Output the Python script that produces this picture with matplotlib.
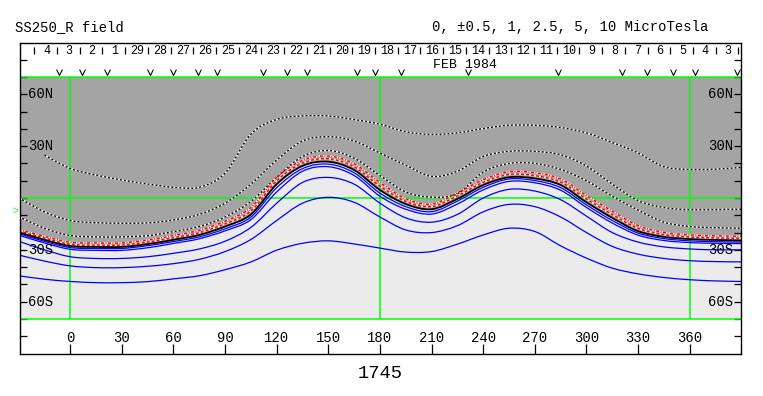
import numpy as np
import matplotlib
matplotlib.use("Agg")
import matplotlib.pyplot as plt
from matplotlib.path import Path
from matplotlib.patches import PathPatch

plt.rcParams['font.family'] = ['Liberation Mono', 'DejaVu Sans Mono', 'DejaVu Sans']
plt.rcParams['lines.scale_dashes'] = False

# ---------------- data ----------------
lon = [-30, -15, 0, 15, 30, 45, 60, 75, 90, 105, 120, 135, 150, 165, 180,
       195, 210, 225, 240, 255, 270, 285, 300, 315, 330, 345, 360, 375, 390]
nan = float('nan')
neutral = [-19.8, -24.2, -27.8, -28.3, -28.3, -26.7, -24.2, -21.4, -16.5, -9.5, 8.0, 18.6, 21.0, 16.2, 4.6,
           -3.5, -6.5, -0.5, 7.5, 12.0, 11.3, 7.5, -2.5, -11.5, -19.2, -22.5, -23.8, -24.3, -24.6]
pos_05 = [-19.0, -23.2, -26.8, -27.2, -27.2, -25.5, -23.0, -20.1, -15.0, -7.5, 10.0, 20.2, 22.7, 18.0, 6.8,
          -2.0, -5.0, 1.2, 9.0, 13.6, 12.9, 9.2, -0.6, -9.6, -17.6, -21.2, -22.6, -23.1, -23.4]
pos_1 = [-18.1, -22.2, -25.6, -26.0, -26.0, -24.3, -21.7, -18.7, -13.4, -5.5, 12.0, 21.8, 24.3, 19.8, 9.0,
         -0.4, -3.5, 3.0, 10.6, 15.2, 14.6, 11.0, 1.4, -7.6, -16.0, -19.9, -21.4, -21.9, -22.2]
pos_25 = [-10.8, -17.5, -21.7, -22.5, -22.5, -21.8, -19.5, -16.5, -11.0, -2.0, 12.0, 24.0, 27.5, 23.0, 13.0,
          3.5, 0.5, 2.5, 15.0, 20.0, 20.0, 16.5, 10.0, 1.0, -7.0, -14.0, -16.5, -17.2, -17.5]
pos_5 = [0.2, -8.0, -13.0, -14.3, -14.6, -14.4, -12.7, -9.5, -3.0, 8.0, 22.0, 33.0, 35.5, 33.0, 26.0,
         19.0, 12.5, 15.5, 24.0, 27.0, 27.0, 25.0, 18.5, 8.0, -1.5, -5.5, -6.8, -6.7, -6.5]
pos_10 = [nan, 24.8, 17.1, 13.3, 10.4, 8.1, 6.2, 6.2, 14.4, 37.0, 45.5, 47.5, 47.5, 45.4, 42.7,
          38.3, 36.8, 37.7, 40.2, 42.1, 42.1, 40.8, 37.7, 32.1, 26.1, 18.1, 16.5, 16.7, 17.7]
neg_05 = [-20.6, -25.1, -28.7, -29.2, -29.2, -27.6, -25.2, -22.5, -17.8, -11.0, 6.0, 17.0, 19.6, 14.6, 2.8,
          -5.0, -7.9, -1.8, 6.2, 11.0, 10.1, 6.0, -4.0, -13.0, -20.3, -23.5, -24.8, -25.3, -25.5]
neg_1 = [-21.5, -26.0, -29.7, -30.3, -30.3, -28.8, -26.3, -23.6, -19.0, -12.5, 3.5, 15.5, 18.1, 13.0, 1.0,
         -6.5, -9.3, -3.5, 4.7, 9.6, 8.8, 4.5, -5.5, -14.5, -21.5, -24.6, -25.8, -26.2, -26.4]
neg_25 = [-25.0, -30.0, -34.0, -35.0, -35.0, -34.0, -32.0, -29.5, -25.0, -17.0, -3.0, 9.0, 11.9, 8.0, -3.0,
          -11.5, -14.0, -9.5, 0.0, 5.0, 4.0, -1.0, -10.5, -20.0, -25.5, -28.3, -29.5, -30.0, -30.0]
neg_5 = [-33.0, -36.5, -39.3, -40.3, -40.3, -39.5, -38.0, -35.5, -31.0, -24.0, -13.0, -3.0, 0.4, -2.5, -11.0,
         -18.5, -20.0, -16.0, -8.0, -3.7, -5.0, -11.0, -20.0, -28.0, -32.5, -35.0, -36.3, -36.8, -37.0]
neg_10 = [-45.0, -47.0, -48.3, -49.0, -49.0, -48.4, -46.8, -45.0, -41.5, -37.0, -30.2, -26.2, -24.8, -26.6, -29.0,
          -31.3, -31.0, -26.7, -21.4, -17.5, -19.4, -27.7, -34.8, -40.6, -43.9, -46.0, -47.3, -48.0, -48.3]

lon_ticks = [0, 30, 60, 90, 120, 150, 180, 210, 240, 270, 300, 330, 360]
lat_ticks = [-80, -70, -60, -50, -40, -30, -20, -10, 0, 10, 20, 30, 40, 50, 60, 70, 80]
lat_label_vals = [60, 30, -30, -60]
lat_label_text = ['60N', '30N', '30S', '60S']
day_labels = ['4', '3', '2', '1', '29', '28', '27', '26', '25', '24', '23', '22', '21', '20', '19',
              '18', '17', '16', '15', '14', '13', '12', '11', '10', '9', '8', '7', '6', '5', '4', '3']
day_edge_start = -20.9
deg_per_day = 13.2
obs_lon = [-6.6, 6.8, 21.3, 46.3, 59.6, 74.2, 85.2, 111.9, 125.9, 137.5, 166.5, 177.0,
           192.0, 231.0, 283.3, 320.5, 335.0, 350.1, 362.9, 387.6]
sub_earth_lat = -7.2

title_left = 'SS250_R field'
title_right = '0, \u00b10.5, 1, 2.5, 5, 10 MicroTesla'
month_label = 'FEB 1984'
rotation_label = '1745'

# ---------------- helpers ----------------
def curve(xs, ys):
    pts = np.array([(x, y) for x, y in zip(xs, ys) if not np.isnan(y)], dtype=float)
    n = len(pts)
    verts = [pts[0]]
    codes = [Path.MOVETO]
    for i in range(n - 1):
        p0 = pts[i - 1] if i > 0 else pts[i]
        p1, p2 = pts[i], pts[i + 1]
        p3 = pts[i + 2] if i + 2 < n else pts[i + 1]
        verts += [p1 + (p2 - p0) / 6.0, p2 - (p3 - p1) / 6.0, p2]
        codes += [Path.CURVE4] * 3
    return verts, codes


def draw_line(ax, ys, **kw):
    v, c = curve(lon, ys)
    ax.add_patch(PathPatch(Path(v, c), fill=False, **kw))


# ---------------- figure ----------------
fig = plt.figure(figsize=(7.63, 3.96), dpi=100)
ax = fig.add_axes([20 / 763, (396 - 353.5) / 396, 721 / 763, 311 / 396])
ax.set_xlim(-29.2, 389.8)
ax.set_ylim(-90, 90)

# polarity fills
v, c = curve(lon, neutral)
top_v = v + [(lon[-1], 70), (lon[0], 70), (lon[0], neutral[0])]
top_c = c + [Path.LINETO, Path.LINETO, Path.CLOSEPOLY]
ax.add_patch(PathPatch(Path(top_v, top_c), facecolor='#a4a4a4', edgecolor='none', zorder=1))
bot_v = v + [(lon[-1], -70), (lon[0], -70), (lon[0], neutral[0])]
bot_c = c + [Path.LINETO, Path.LINETO, Path.CLOSEPOLY]
ax.add_patch(PathPatch(Path(bot_v, bot_c), facecolor='#ebebeb', edgecolor='none', zorder=1))

# green grid
green = '#00ff00'
for la in (70, 0, -70):
    ax.axhline(la, color=green, lw=1.1, zorder=2)
ax.vlines([0, 180, 360], -70, 70, color=green, lw=1.1, zorder=2)

px = 0.72
# positive (dotted black/white) contours
for ys in (pos_25, pos_5, pos_10):
    draw_line(ax, ys, edgecolor='white', lw=1.0, zorder=3)
    draw_line(ax, ys, edgecolor='black', lw=1.0, linestyle=(0, (2 * px, 2 * px)), zorder=4)
# red contours
draw_line(ax, pos_1, edgecolor='white', lw=1.1, zorder=3)
draw_line(ax, pos_1, edgecolor='#ff0000', lw=1.1, linestyle=(0, (3 * px, 1.5 * px, 1 * px, 1.5 * px)), zorder=4)
draw_line(ax, pos_05, edgecolor='white', lw=1.1, zorder=3)
draw_line(ax, pos_05, edgecolor='#ff0000', lw=1.1, linestyle=(0, (3 * px, 2 * px)), zorder=4)
# neutral line
draw_line(ax, neutral, edgecolor='black', lw=1.3, zorder=5)
# negative contours
for ys in (neg_05, neg_1, neg_25, neg_5, neg_10):
    draw_line(ax, ys, edgecolor='#0000ff', lw=0.9, zorder=4)

# axes / ticks
for s in ax.spines.values():
    s.set_linewidth(1.0)
    s.set_zorder(10)
ax.set_yticks(lat_ticks)
ax.set_xticks(lon_ticks)
ax.tick_params(axis='y', direction='in', length=5, width=0.9, left=True, right=True,
               labelleft=False, labelright=False)
ax.tick_params(axis='x', direction='in', length=7.2, width=0.9, bottom=True, top=False,
               labelbottom=False)
for t in ax.yaxis.get_ticklines() + ax.xaxis.get_ticklines():
    t.set_zorder(10)

ytr = ax.get_yaxis_transform()
for val, txt in zip(lat_label_vals, lat_label_text):
    ax.text(0.011, val, txt, transform=ytr, ha='left', va='center', fontsize=10, zorder=11)
    ax.text(0.989, val, txt, transform=ytr, ha='right', va='center', fontsize=10, zorder=11)

for t in lon_ticks:
    ax.text(t, -81.2, str(t), ha='center', va='center', fontsize=10, zorder=11)

# day strip
edges = [day_edge_start + k * deg_per_day for k in range(len(day_labels) + 1)]
ax.vlines(edges, 83.6, 87.2, color='black', lw=0.9, zorder=11)
for k, lab in enumerate(day_labels):
    ax.text(edges[k] + deg_per_day / 2 + 0.5, 85.3, lab, ha='center', va='center', fontsize=8.5, zorder=11)
ax.text(229.4, 77.0, month_label, ha='center', va='center', fontsize=9.5, zorder=11)

# observation markers drawn as small open "v" marks
v_marker = Path([(-1.0, 1.0), (0.0, -1.0), (1.0, 1.0)], [Path.MOVETO, Path.LINETO, Path.LINETO])
ax.plot(obs_lon, [73.2] * len(obs_lon), linestyle='none', marker=v_marker, markersize=4.2,
        markerfacecolor='none', markeredgecolor='black', markeredgewidth=0.8, zorder=11, clip_on=False)

# sub-earth latitude marker (outside left)
ax.text(-32.0, sub_earth_lat, '>', ha='center', va='center', fontsize=7, color=green,
        clip_on=False, zorder=11)

fig.text(15 / 763, 1 - 27.5 / 396, title_left, ha='left', va='center', fontsize=10)
fig.text(432 / 763, 1 - 27.5 / 396, title_right, ha='left', va='center', fontsize=10)
ax.text(0.5 * (-29.2 + 389.8) - 0.3, -101.5, rotation_label, ha='center', va='center', fontsize=13.5,
        clip_on=False)

fig.savefig('out.png', dpi=100)
